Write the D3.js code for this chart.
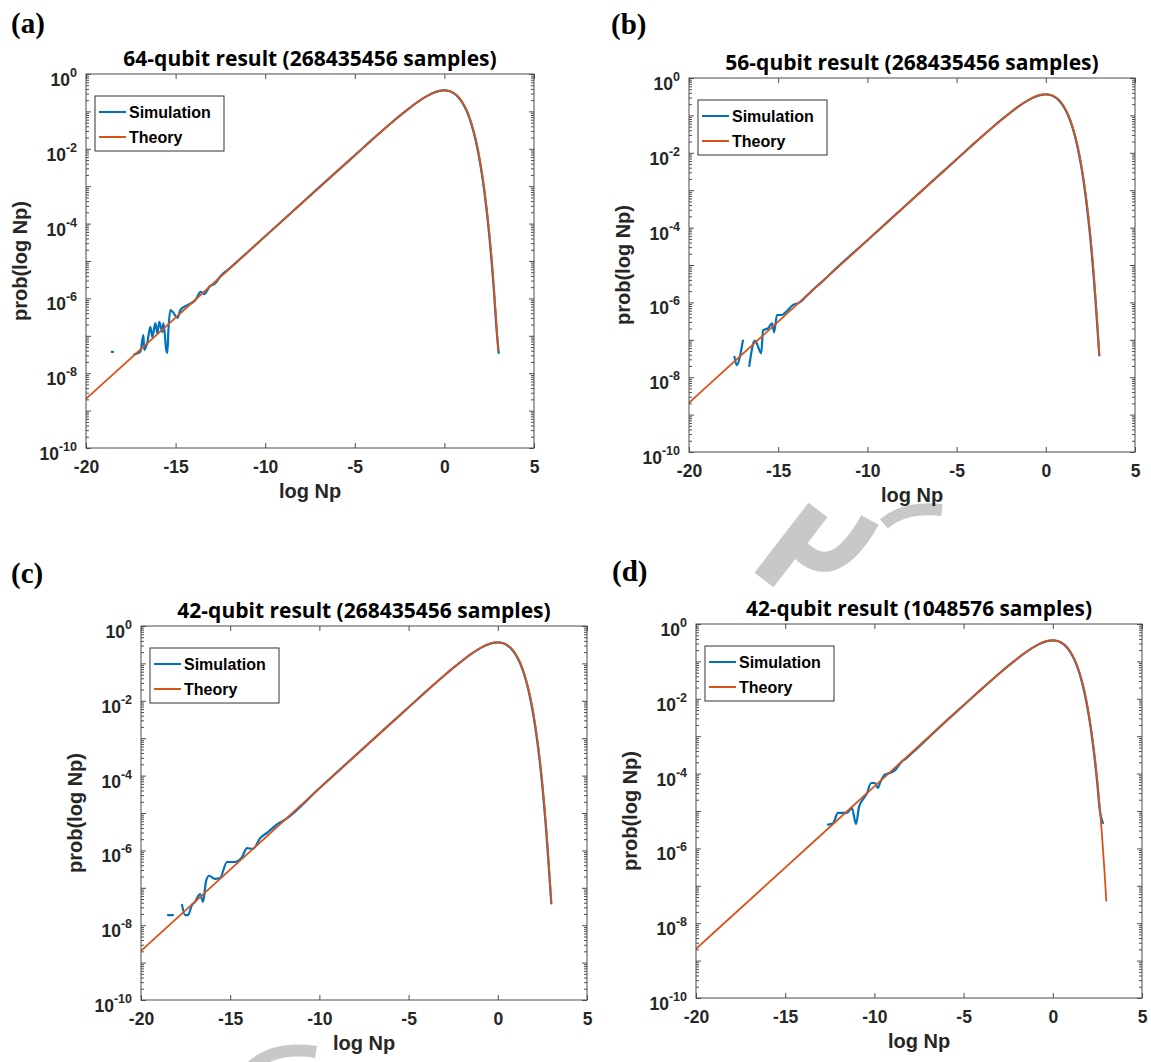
<!DOCTYPE html>
<html>
<head>
<meta charset="utf-8">
<script src="https://cdn.jsdelivr.net/npm/d3@7"></script>
<style>
    body { margin: 0; background: #fff; }
    svg { display: block; }
</style>
</head>
<body>
<div id="chart"></div>
<script>
// Theory curve, same in all four panels (x = log Np, p = prob)
const theoryX = [-20, -15, -10, -8, -6, -5, -4, -3, -2.5, -2, -1.5, -1, -0.5, -0.25, 0, 0.25, 0.5, 0.75, 1, 1.25, 1.5, 1.75, 2, 2.25, 2.5, 2.75, 2.9, 3.0];
const theoryP = [2.06e-9, 3.06e-7, 4.54e-5, 3.35e-4, 2.47e-3, 6.65e-3, 1.80e-2, 4.74e-2, 7.56e-2, 0.1182, 0.1785, 0.2546, 0.3307, 0.3574, 0.3679, 0.3556, 0.3170, 0.2549, 0.1794, 0.1064, 0.0507, 0.0182, 4.57e-3, 7.18e-4, 6.23e-5, 2.52e-6, 2.33e-7, 3.80e-8];

// Simulation: smooth middle part shared by the panels
const simMidX = [-12, -10, -8, -6, -5, -4, -3, -2.5, -2, -1.5, -1, -0.5, -0.25, 0, 0.25, 0.5, 0.75, 1, 1.25, 1.5, 1.75, 2, 2.25, 2.5];
const simMidP = [6.3e-6, 4.6e-5, 3.4e-4, 2.5e-3, 6.7e-3, 1.81e-2, 4.75e-2, 7.55e-2, 0.1175, 0.177, 0.252, 0.327, 0.353, 0.363, 0.350, 0.311, 0.248, 0.172, 0.101, 0.0470, 0.0165, 3.95e-3, 6.0e-4, 5.0e-5];

// Simulation: noisy low end of each panel (null = gap in the line)
const simLowAX = [-18.56, -18.50, null, -17.30, -16.97, -16.80, -16.75, -16.58, -16.41, -16.30, -16.13, -16.02, -15.91, -15.74, -15.68, -15.52, -15.46, -15.40, -15.29, -15.12, -14.90, -14.73, -14.34, -13.89, -13.6, -13.4, -13.1, -12.8, -12.5];
const simLowAP = [3.7e-8, 3.7e-8, null, 3.2e-8, 3.7e-8, 1.05e-7, 4.2e-8, 6.5e-8, 1.74e-7, 9.3e-8, 2.2e-7, 1.17e-7, 2.35e-7, 1.26e-7, 2.2e-7, 4.2e-8, 3.5e-8, 1.45e-7, 4.9e-7, 4.1e-7, 3.0e-7, 4.9e-7, 6.6e-7, 9.1e-7, 1.5e-6, 1.3e-6, 2.1e-6, 2.5e-6, 3.9e-6];

const simLowBX = [-17.45, -17.33, -16.98, null, -16.62, -16.40, -16.30, -15.95, -15.85, -15.58, -15.35, -15.23, -15.07, -14.79, -14.5, -14.2, -13.8, -13.4, -13.0, -12.5];
const simLowBP = [3.5e-8, 2.1e-8, 9.5e-8, null, 2.0e-8, 7.9e-8, 9.5e-8, 4.4e-8, 1.82e-7, 2.0e-7, 2.75e-7, 1.58e-7, 4.6e-7, 4.6e-7, 6.0e-7, 8.3e-7, 1.0e-6, 1.5e-6, 2.3e-6, 3.7e-6];

const simLowCX = [-18.49, -18.21, null, -17.70, -17.53, -17.37, -17.14, -16.97, -16.80, -16.69, -16.52, -16.36, -16.19, -15.85, -15.57, -15.18, -14.73, -14.34, -14.06, -13.72, -13.33, -12.88, -12.26];
const simLowCP = [1.86e-8, 1.86e-8, null, 3.5e-8, 1.86e-8, 1.86e-8, 3.5e-8, 4.2e-8, 6.0e-8, 6.8e-8, 4.2e-8, 1.45e-7, 2.1e-7, 1.74e-7, 1.82e-7, 4.9e-7, 4.9e-7, 6.6e-7, 1.15e-6, 1.1e-6, 2.1e-6, 3.1e-6, 5.4e-6];

const simLowDX = [-12.60, -12.32, -12.04, -11.54, -11.26, -11.03, -10.86, -10.41, -10.19, -9.97, -9.80, -9.69, -9.4, -9.1, -8.8, -8.5, -8.2, -7.9];
const simLowDP = [4.3e-6, 4.7e-6, 8.9e-6, 8.9e-6, 1.2e-5, 4.5e-6, 1.29e-5, 3.0e-5, 5.6e-5, 5.6e-5, 4.1e-5, 5.6e-5, 9.5e-5, 1.05e-4, 1.3e-4, 2.0e-4, 2.6e-4, 3.5e-4];

// Simulation: tail end of each panel
const simEndAX = [2.75, 2.9, 3.03];
const simEndAP = [1.9e-6, 1.7e-7, 3.5e-8];
const simEndBX = [2.75, 2.9, 3.0];
const simEndBP = [1.9e-6, 1.8e-7, 3.8e-8];
const simEndCX = [2.75, 2.9, 3.0];
const simEndCP = [1.9e-6, 1.8e-7, 3.8e-8];
const simEndDX = [2.62, 2.81];
const simEndDP = [1.2e-5, 4.8e-6];

// Axis ticks
const xTicks = [-20, -15, -10, -5, 0, 5];
const yLabelExps = [0, -2, -4, -6, -8, -10];

const seriesNames = ["Simulation", "Theory"];
const titles = [
    "64-qubit result (268435456 samples)",
    "56-qubit result (268435456 samples)",
    "42-qubit result (268435456 samples)",
    "42-qubit result (1048576 samples)"
];
const tags = ["(a)", "(b)", "(c)", "(d)"];

const BLUE = "#0072BD";
const ORANGE = "#D95319";
const AXIS = "#4d4d4d";
const LABEL = "#262626";
const SANS = "'Liberation Sans', Arial, sans-serif";

const W = 1151, H = 1062;

const svg = d3.select("#chart").append("svg")
    .attr("width", W)
    .attr("height", H);

// faint watermark strokes showing between the panels
const mark = svg.append("g").attr("fill", "none").attr("stroke", "#c8c8c8");
mark.append("path").attr("d", "M 764 580 L 818 510").attr("stroke-width", 24);
mark.append("path").attr("d", "M 792 540 Q 830 592 870 520").attr("stroke-width", 20);
mark.append("path").attr("d", "M 884 524 Q 904 506 942 510").attr("stroke-width", 12);
mark.append("path").attr("d", "M 252 1066 Q 276 1046 316 1052").attr("stroke-width", 12);

function zipPoints(xs, ps) {
    return xs.map((v, i) => ({x: v, p: ps[i]}));
}

function simSeries(lowX, lowP, endX, endP) {
    let low = zipPoints(lowX, lowP);
    let lastX = lowX[lowX.length - 1];
    let mid = zipPoints(simMidX, simMidP).filter(d => d.x > lastX);
    return low.concat(mid, zipPoints(endX, endP));
}

const panels = [
    {box: {left: 86, right: 534, top: 74, bottom: 448}, tagAt: [11, 33], titleSize: 21,
        sim: simSeries(simLowAX, simLowAP, simEndAX, simEndAP)},
    {box: {left: 689, right: 1135, top: 78, bottom: 452}, tagAt: [611, 34], titleSize: 21,
        sim: simSeries(simLowBX, simLowBP, simEndBX, simEndBP)},
    {box: {left: 141, right: 587, top: 626, bottom: 1000}, tagAt: [11, 583], titleSize: 21,
        sim: simSeries(simLowCX, simLowCP, simEndCX, simEndCP)},
    {box: {left: 696, right: 1142, top: 624, bottom: 998}, tagAt: [612, 581], titleSize: 20.8,
        sim: simSeries(simLowDX, simLowDP, simEndDX, simEndDP)}
];

const theory = zipPoints(theoryX, theoryP);

panels.forEach((pn, i) => drawPanel(pn, i));

function styleAxis(sel) {
    sel.select(".domain").remove();
    sel.selectAll(".tick line").attr("stroke", AXIS);
    sel.selectAll("text")
        .attr("font-family", SANS)
        .attr("font-weight", "bold")
        .attr("font-size", 17.5)
        .attr("fill", LABEL);
}

function drawPanel(pn, i) {
    let b = pn.box;
    let g = svg.append("g");

    let x = d3.scaleLinear().domain([-20, 5]).range([b.left, b.right]);
    let y = d3.scaleLog().domain([1e-10, 1]).range([b.bottom, b.top]);

    // plot area
    g.append("rect")
        .attr("x", b.left).attr("y", b.top)
        .attr("width", b.right - b.left).attr("height", b.bottom - b.top)
        .attr("fill", "#fff");

    // y ticks (major every decade, minor 2..9)
    let majors = d3.range(-10, 1).map(e => Math.pow(10, e));
    let minors = [];
    d3.range(-10, 0).forEach(e => {
        for (let k = 2; k <= 9; k++) minors.push(k * Math.pow(10, e));
    });

    g.append("g").attr("transform", `translate(${b.left},0)`)
        .call(d3.axisLeft(y).tickValues(majors).tickSizeInner(-5).tickSizeOuter(0).tickFormat(""))
        .call(styleAxis);
    g.append("g").attr("transform", `translate(${b.left},0)`)
        .call(d3.axisLeft(y).tickValues(minors).tickSizeInner(-3).tickSizeOuter(0).tickFormat(""))
        .call(styleAxis);
    g.append("g").attr("transform", `translate(${b.right},0)`)
        .call(d3.axisRight(y).tickValues(majors).tickSizeInner(-5).tickSizeOuter(0).tickFormat(""))
        .call(styleAxis);
    g.append("g").attr("transform", `translate(${b.right},0)`)
        .call(d3.axisRight(y).tickValues(minors).tickSizeInner(-3).tickSizeOuter(0).tickFormat(""))
        .call(styleAxis);

    // x ticks
    g.append("g").attr("transform", `translate(0,${b.bottom})`)
        .call(d3.axisBottom(x).tickValues(xTicks).tickSizeInner(-5).tickSizeOuter(0)
            .tickPadding(13).tickFormat(d => String(d)))
        .call(styleAxis);
    g.append("g").attr("transform", `translate(0,${b.top})`)
        .call(d3.axisTop(x).tickValues(xTicks).tickSizeInner(-5).tickSizeOuter(0).tickFormat(""))
        .call(styleAxis);

    // y tick labels 10^e
    yLabelExps.forEach(e => {
        let yy = y(Math.pow(10, e));
        let t = g.append("text")
            .attr("x", b.left - 9)
            .attr("y", yy + 12)
            .attr("text-anchor", "end")
            .attr("font-family", SANS)
            .attr("font-weight", "bold")
            .attr("fill", LABEL);
        t.append("tspan").attr("font-size", 17.5).text("10");
        t.append("tspan").attr("font-size", 12.5).attr("dy", -9).text(String(e));
    });

    // lines
    let line = d3.line()
        .defined(d => d.x != null && d.p != null)
        .x(d => x(d.x))
        .y(d => y(d.p))
        .curve(d3.curveMonotoneX);

    g.append("path").datum(pn.sim)
        .attr("d", line)
        .attr("fill", "none")
        .attr("stroke", BLUE)
        .attr("stroke-width", 2.2)
        .attr("stroke-linecap", "round")
        .attr("stroke-linejoin", "round");

    g.append("path").datum(theory)
        .attr("d", line)
        .attr("fill", "none")
        .attr("stroke", ORANGE)
        .attr("stroke-width", 1.8)
        .attr("stroke-linejoin", "round");

    // box
    g.append("rect")
        .attr("x", b.left).attr("y", b.top)
        .attr("width", b.right - b.left).attr("height", b.bottom - b.top)
        .attr("fill", "none")
        .attr("stroke", AXIS)
        .attr("stroke-width", 1);

    // legend
    let lg = g.append("g").attr("transform", `translate(${b.left + 9},${b.top + 22})`);
    lg.append("rect")
        .attr("width", 129).attr("height", 55)
        .attr("fill", "#fff")
        .attr("stroke", "#333")
        .attr("stroke-width", 1);
    seriesNames.forEach((name, k) => {
        let ry = 16 + k * 25;
        lg.append("line")
            .attr("x1", 4).attr("x2", 31)
            .attr("y1", ry).attr("y2", ry)
            .attr("stroke", k === 0 ? BLUE : ORANGE)
            .attr("stroke-width", 2);
        lg.append("text")
            .attr("x", 34).attr("y", ry)
            .attr("dy", "0.36em")
            .attr("font-family", SANS)
            .attr("font-weight", "bold")
            .attr("font-size", 16)
            .attr("fill", "#000")
            .text(name);
    });

    // axis labels
    let cx = (b.left + b.right) / 2;
    let cy = (b.top + b.bottom) / 2;
    g.append("text")
        .attr("x", cx).attr("y", b.bottom + 50)
        .attr("text-anchor", "middle")
        .attr("font-family", SANS)
        .attr("font-weight", "bold")
        .attr("font-size", 20)
        .attr("fill", LABEL)
        .text("log Np");
    g.append("text")
        .attr("transform", `translate(${b.left - 59},${cy}) rotate(-90)`)
        .attr("text-anchor", "middle")
        .attr("font-family", SANS)
        .attr("font-weight", "bold")
        .attr("font-size", 20)
        .attr("fill", LABEL)
        .text("prob(log Np)");

    // title
    g.append("text")
        .attr("x", cx).attr("y", b.top - 8)
        .attr("text-anchor", "middle")
        .attr("font-family", "'Open Sans', sans-serif")
        .attr("font-weight", "bold")
        .attr("font-size", pn.titleSize)
        .attr("fill", "#000")
        .text(titles[i]);

    // panel tag
    svg.append("text")
        .attr("x", pn.tagAt[0]).attr("y", pn.tagAt[1])
        .attr("font-family", "'Liberation Serif', 'Times New Roman', serif")
        .attr("font-weight", "bold")
        .attr("font-size", 29)
        .attr("fill", "#000")
        .text(tags[i]);
}
</script>
</body>
</html>
